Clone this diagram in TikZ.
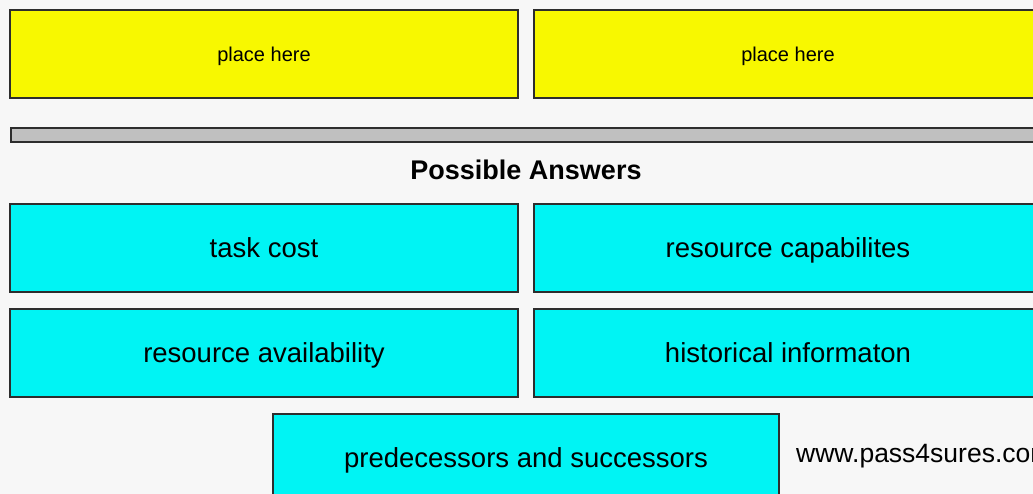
\documentclass[tikz,border=0pt]{standalone}
\usepackage{fontspec}
\setmainfont{Liberation Sans}
\definecolor{bgc}{RGB}{247,247,247}
\definecolor{yel}{RGB}{248,248,0}
\definecolor{cya}{RGB}{0,244,244}
\definecolor{bar}{RGB}{192,192,192}
\definecolor{edge}{RGB}{45,45,45}
\tikzset{
  box/.style={draw=edge, line width=2pt, rectangle, minimum width=508pt, minimum height=88pt, inner sep=0pt},
  target/.style={box, fill=yel, font=\fontsize{20pt}{24pt}\selectfont, text height=14.4pt, text depth=0.2pt},
  answer/.style={box, fill=cya, font=\fontsize{27.5pt}{32pt}\selectfont, text height=19.8pt, text depth=1.8pt},
}
\begin{document}
\begin{tikzpicture}[x=1pt,y=-1pt]
\useasboundingbox (0,0) rectangle (1033,494);
\clip (0,0) rectangle (1033,494);
\fill[bgc] (0,0) rectangle (1033,494);
\node[target] (t1) at (264,54) {place here};
\node[target] (t2) at (788,54) {place here};
\node[draw=edge, line width=2pt, fill=bar, minimum width=1040pt, minimum height=14pt, inner sep=0pt, anchor=west] (sep) at (10,135.5) {};
\node[font=\fontsize{27pt}{32pt}\selectfont\bfseries, text height=19.4pt, text depth=5.7pt, inner sep=0pt] (title) at (526,172.5) {Possible Answers};
\node[answer] (a1) at (264,248.5) {task cost};
\node[answer] (a2) at (788,248.5) {resource capabilites};
\node[answer] (a3) at (264,353) {resource availability};
\node[answer] (a4) at (788,353) {historical informaton};
\node[answer, minimum width=506pt] (a5) at (526,458) {predecessors and successors};
\node[anchor=west, font=\fontsize{26.5pt}{30pt}\selectfont, inner sep=0pt, text height=19.1pt, text depth=5.6pt] (url) at (796,455.5) {www.pass4sures.com};
\end{tikzpicture}
\end{document}
